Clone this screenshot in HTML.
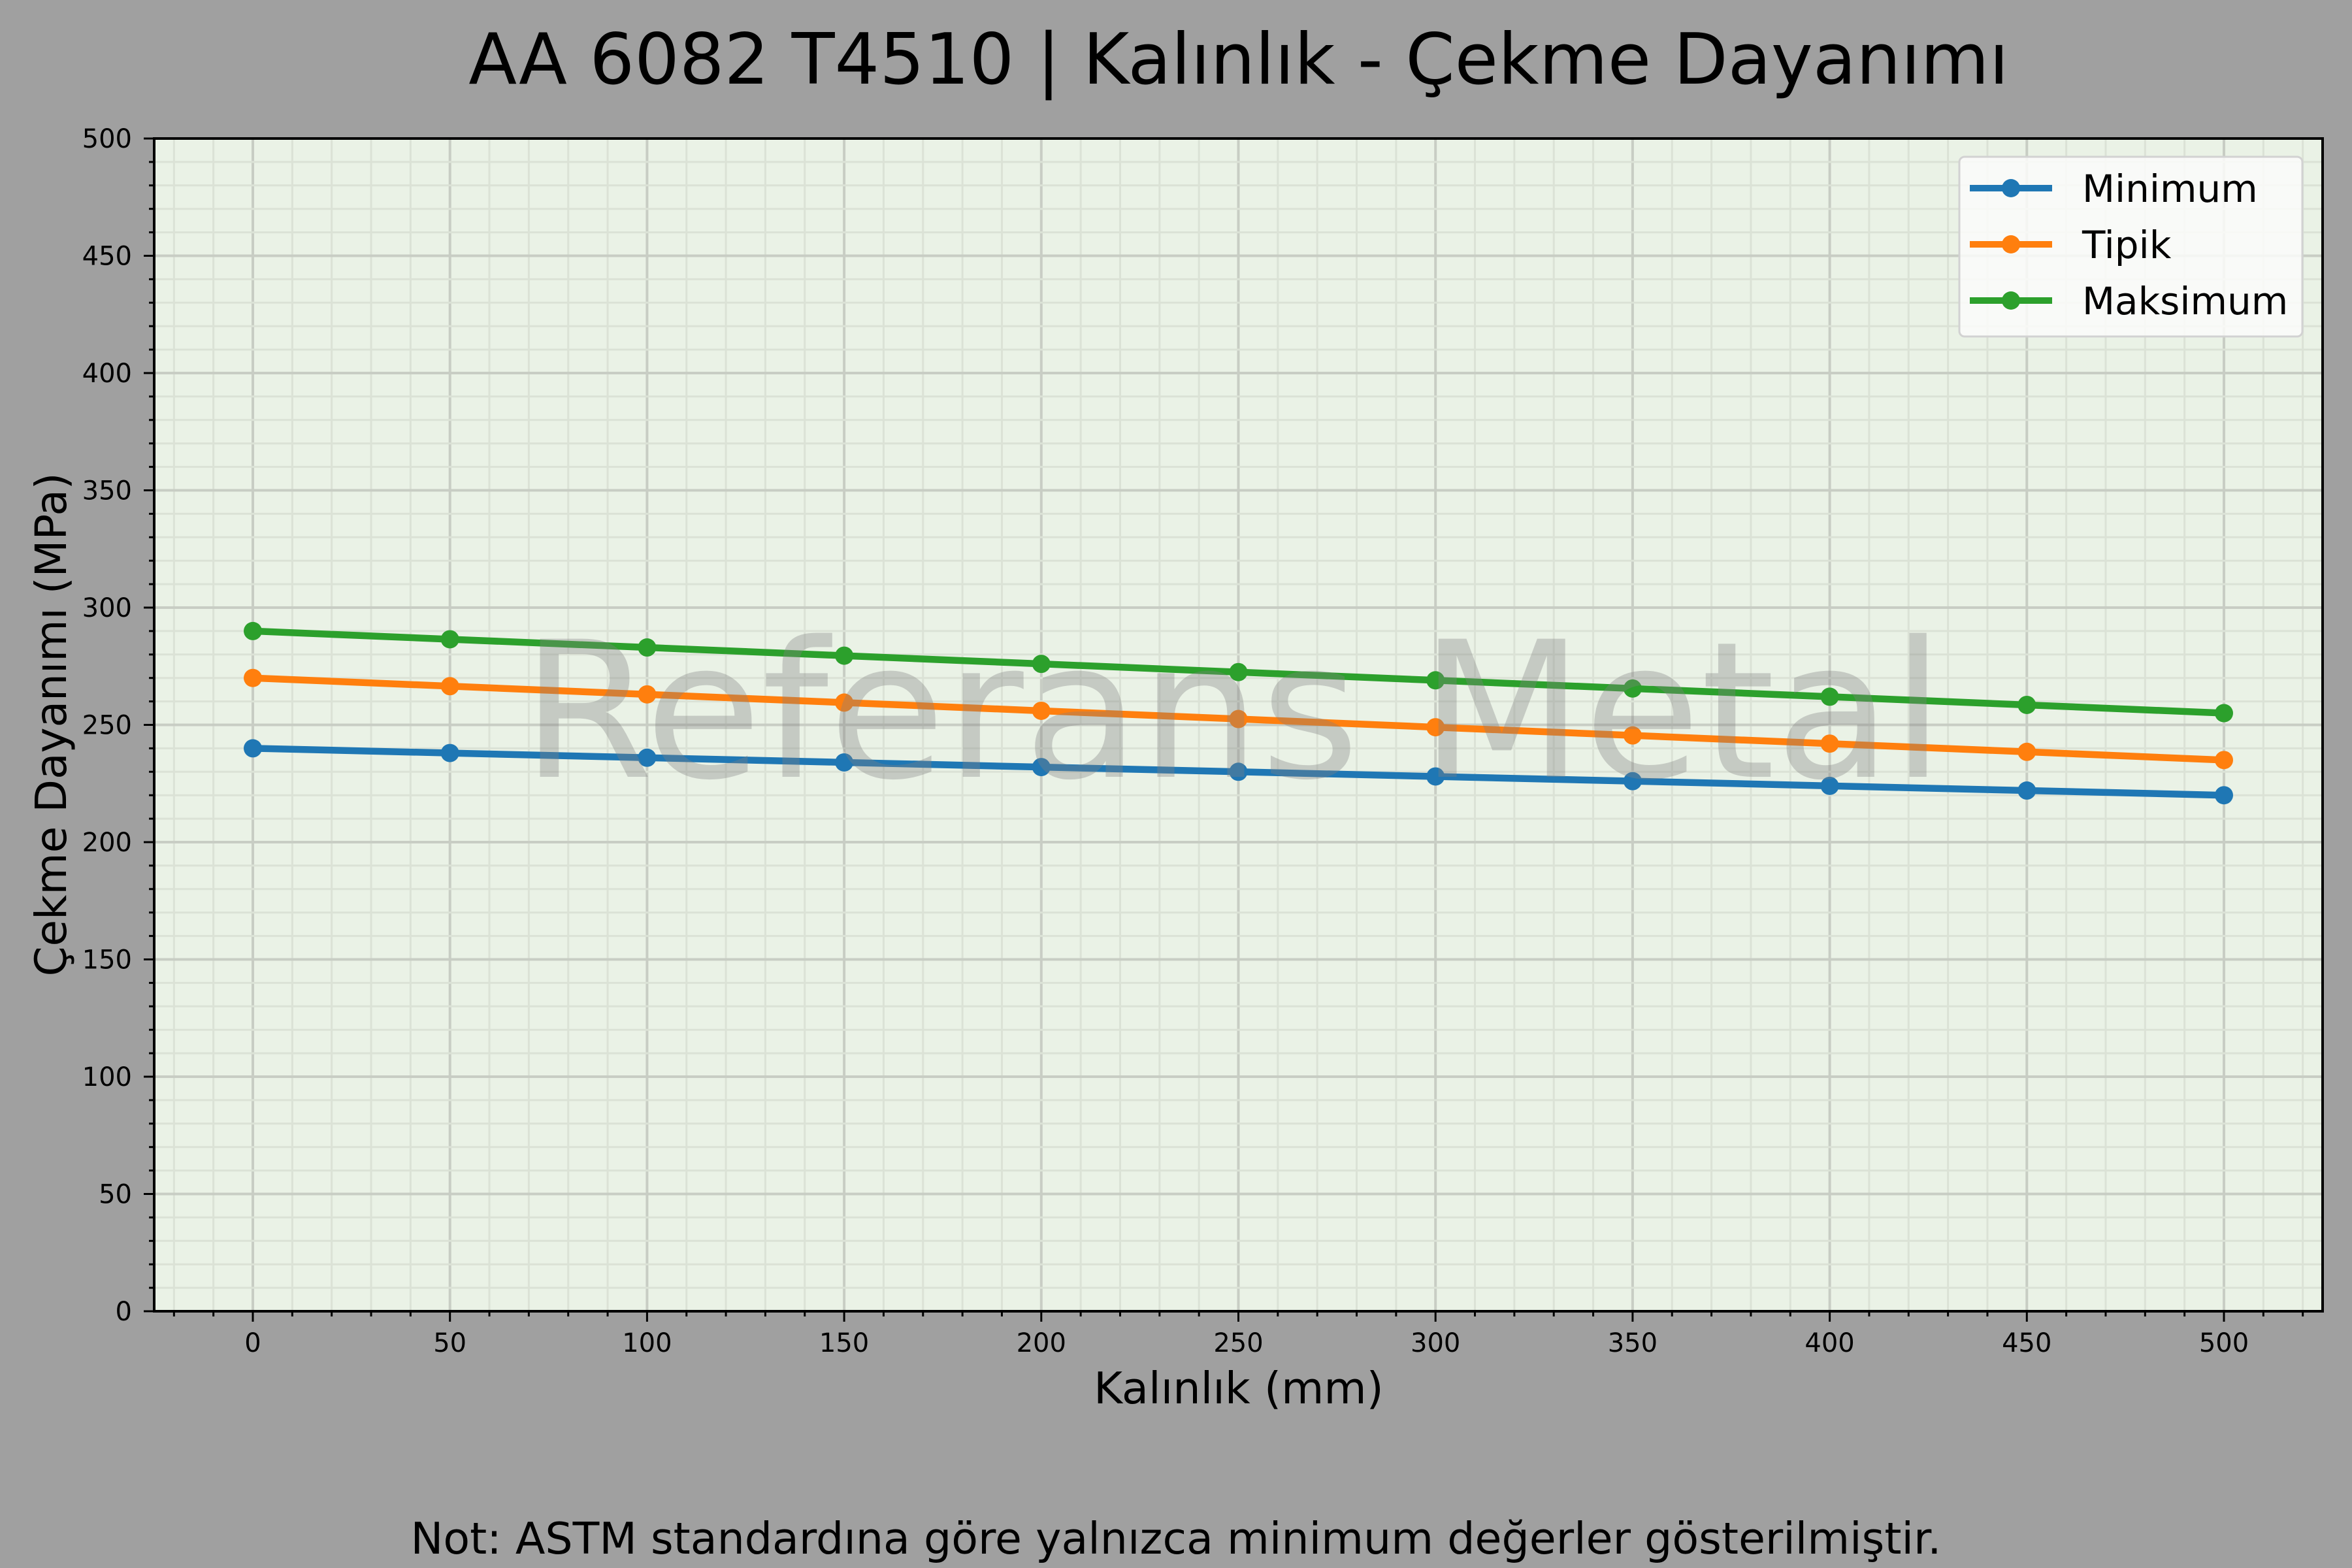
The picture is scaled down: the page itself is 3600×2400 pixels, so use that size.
<!DOCTYPE html>
<html><head><meta charset="utf-8"><style>html,body{margin:0;padding:0;background:#a0a0a0}svg{display:block}text{font-family:"DejaVu Sans","Liberation Sans",sans-serif}</style></head>
<body>
<svg width="3600" height="2400" viewBox="0 0 3600 2400" xmlns="http://www.w3.org/2000/svg">
<rect width="3600" height="2400" fill="#a0a0a0"/>
<text x="1896" y="128" font-size="108" text-anchor="middle" fill="#000">AA 6082 T4510 | Kalınlık - Çekme Dayanımı</text>
<rect x="236" y="212" width="3319" height="1795" fill="#eaf2e6"/>
<g id="grid"></g>
<g id="series"></g>
<text x="798" y="1189" font-size="290" fill="#808080" fill-opacity="0.35" textLength="2178" lengthAdjust="spacingAndGlyphs">Referans Metal</text>
<rect x="236" y="212" width="3319" height="1795" fill="none" stroke="#000" stroke-width="4"/>
<g id="ticks"></g>
<g>
<rect x="2999" y="240" width="525" height="275" rx="8" fill="#fbfcfa" fill-opacity="0.85" stroke="#d2d2d2" stroke-width="3"/>
<line x1="3015" y1="288" x2="3141" y2="288" stroke="#1f77b4" stroke-width="10"/><circle cx="3078" cy="288" r="14" fill="#1f77b4"/>
<line x1="3015" y1="374" x2="3141" y2="374" stroke="#ff7f0e" stroke-width="10"/><circle cx="3078" cy="374" r="14" fill="#ff7f0e"/>
<line x1="3015" y1="460" x2="3141" y2="460" stroke="#2ca02c" stroke-width="10"/><circle cx="3078" cy="460" r="14" fill="#2ca02c"/>
<text x="3187" y="309" font-size="58">Minimum</text>
<text x="3187" y="395" font-size="58">Tipik</text>
<text x="3187" y="481" font-size="58">Maksimum</text>
</g>
<text x="1896" y="2148" font-size="67" text-anchor="middle">Kalınlık (mm)</text>
<text transform="translate(101,1109) rotate(-90)" font-size="66" text-anchor="middle">Çekme Dayanımı (MPa)</text>
<text x="1800" y="2378" font-size="66.6" text-anchor="middle">Not: ASTM standardına göre yalnızca minimum değerler gösterilmiştir.</text>
</svg>
<script>
const NS="http://www.w3.org/2000/svg";
const X=t=>387+t*6.034, Y=v=>2007-v*3.59;
function el(p,n,a,txt){const e=document.createElementNS(NS,n);for(const k in a)e.setAttribute(k,a[k]);if(txt!==undefined)e.textContent=txt;p.appendChild(e);return e;}
const g=document.getElementById('grid'),s=document.getElementById('series'),tk=document.getElementById('ticks');
for(let t=-20;t<=520;t+=10){const x=X(t);el(g,'line',{x1:x,y1:212,x2:x,y2:2007,stroke:t%50==0?'#c8cdc4':'#dbe2d6','stroke-width':t%50==0?4:3});
 el(tk,'line',{x1:x,y1:2007,x2:x,y2:t%50==0?2023:2015,stroke:'#000','stroke-width':3});
 if(t%50==0&&t>=0&&t<=500)el(tk,'text',{x:x,y:2069,'font-size':40,'text-anchor':'middle'},t);}
for(let v=0;v<=500;v+=10){const y=Y(v);if(v>0&&v<500)el(g,'line',{x1:236,y1:y,x2:3555,y2:y,stroke:v%50==0?'#c8cdc4':'#dbe2d6','stroke-width':v%50==0?4:3});
 el(tk,'line',{x1:236,y1:y,x2:v%50==0?220:228,y2:y,stroke:'#000','stroke-width':3});
 if(v%50==0)el(tk,'text',{x:202,y:y+14,'font-size':40,'text-anchor':'end'},v);}
const data=[['#1f77b4',240,220],['#ff7f0e',270,235],['#2ca02c',290,255]];
for(const [c,a,b] of data){let pts=[];for(let i=0;i<=10;i++){const t=i*50,v=a+(b-a)*i/10;pts.push(X(t)+','+Y(v));}
 el(s,'polyline',{points:pts.join(' '),fill:'none',stroke:c,'stroke-width':10.5,'stroke-linejoin':'round'});
 for(const p of pts){const [x,y]=p.split(',');el(s,'circle',{cx:x,cy:y,r:14,fill:c});}}
</script>
</body></html>
